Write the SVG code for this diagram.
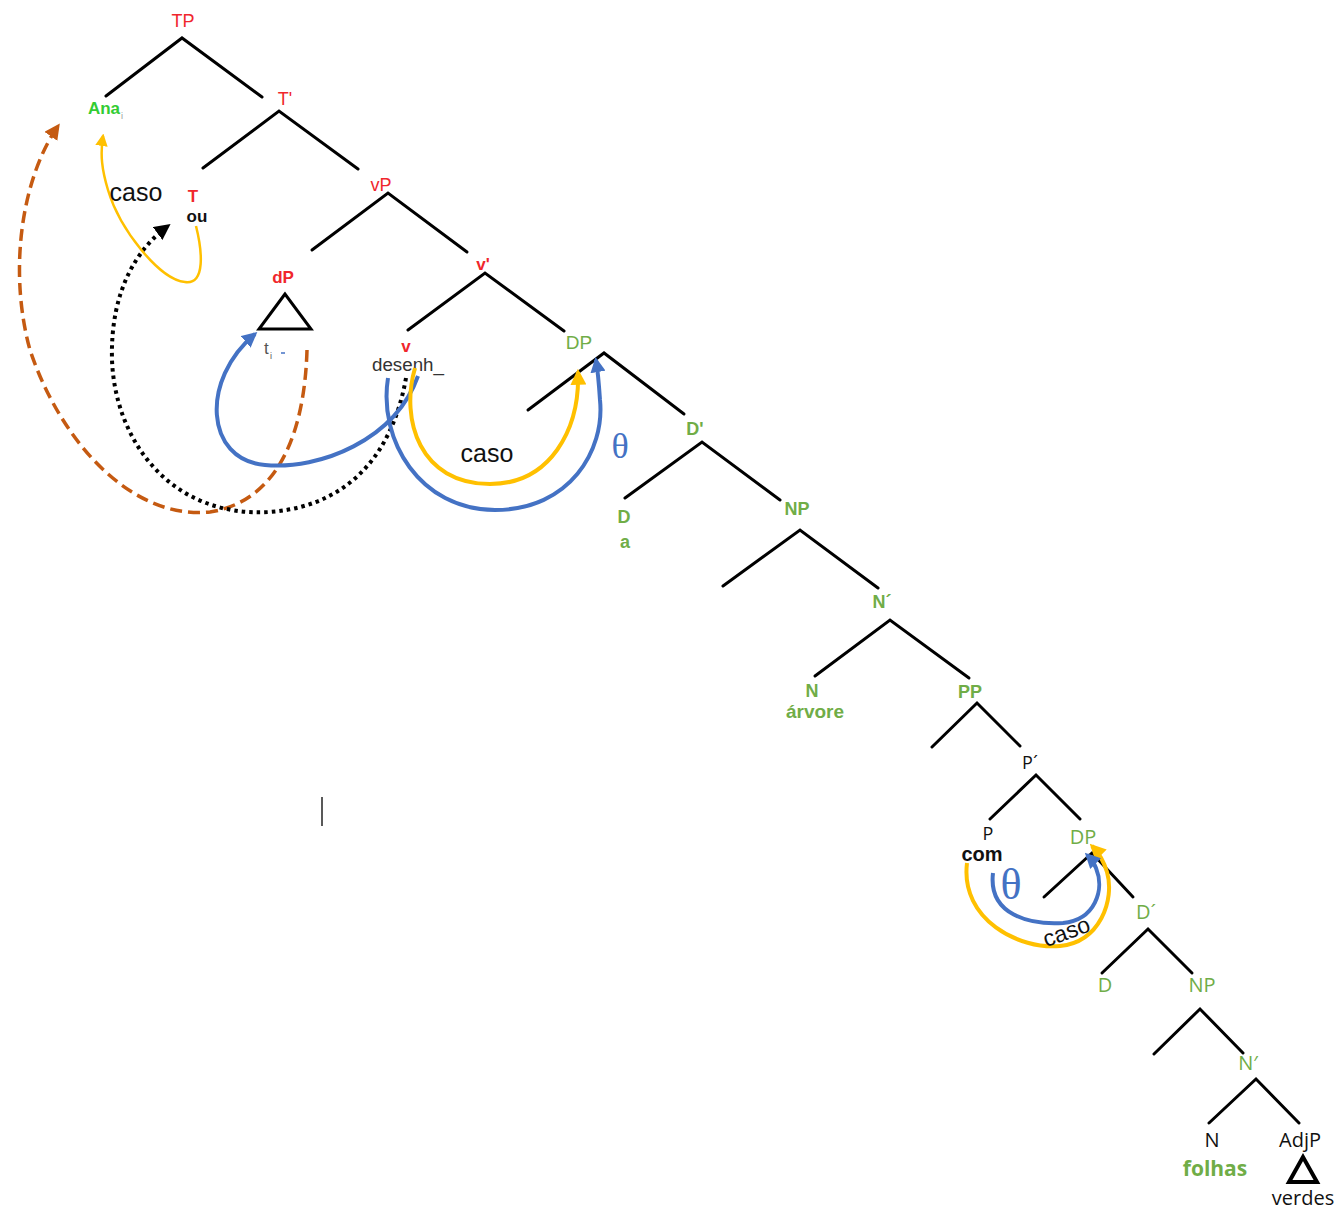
<svg xmlns="http://www.w3.org/2000/svg" width="1341" height="1211" viewBox="0 0 1341 1211">
<defs>
<style>
.br{stroke:#000;stroke-width:3;fill:none;stroke-linecap:round}
.tx{font-family:"Liberation Sans",Arial,sans-serif;text-anchor:middle}
.os{font-family:"Open Sans","Liberation Sans",sans-serif;text-anchor:middle}
.red{fill:#f0262c;font-size:18px}
.redb{fill:#f0262c;font-size:17px;font-weight:bold}
.grn{fill:#70ad47;font-size:19px}
.grnb{fill:#70ad47;font-size:18px;font-weight:bold}
.blk{fill:#111;font-size:19px}
.blkb{fill:#111;font-size:17px;font-weight:bold}
.caso{fill:#111;font-size:25px}
.theta{font-family:"Liberation Serif","Times New Roman",serif;fill:#4472c4;text-anchor:middle}
.yel{stroke:#ffc000;fill:none}
.blu{stroke:#4472c4;fill:none;stroke-width:4}
</style>
<marker id="ay" viewBox="0 0 10 10" refX="8" refY="5" markerWidth="4" markerHeight="4" orient="auto" markerUnits="strokeWidth"><path d="M0,0 L10,5 L0,10 z" fill="#ffc000"/></marker>
<marker id="ay2" viewBox="0 0 10 10" refX="8" refY="5" markerWidth="5" markerHeight="5" orient="auto" markerUnits="strokeWidth"><path d="M0,0 L10,5 L0,10 z" fill="#ffc000"/></marker>
<marker id="ab" viewBox="0 0 10 10" refX="8" refY="5" markerWidth="3.8" markerHeight="3.8" orient="auto" markerUnits="strokeWidth"><path d="M0,0 L10,5 L0,10 z" fill="#4472c4"/></marker>
<marker id="ak" viewBox="0 0 10 10" refX="8" refY="5" markerWidth="4" markerHeight="4" orient="auto" markerUnits="strokeWidth"><path d="M0,0 L10,5 L0,10 z" fill="#000"/></marker>
<marker id="ao" viewBox="0 0 10 10" refX="8" refY="5" markerWidth="4.5" markerHeight="4.5" orient="auto" markerUnits="strokeWidth"><path d="M0,0 L10,5 L0,10 z" fill="#c55a11"/></marker>
</defs>
<rect width="1341" height="1211" fill="#fff"/>

<g id="tree-branches">
<path class="br" d="M106,96 L182,38 L262,97"/>
<path class="br" d="M203,168 L279,111 L358,169"/>
<path class="br" d="M312,250 L388,193 L467,252"/>
<path class="br" d="M408,330 L485,273 L564,331"/>
<path class="br" d="M528,410 L604,353 L684,414"/>
<path class="br" d="M625,498 L702,442 L780,500"/>
<path class="br" d="M723,586 L800,530 L878,588"/>
<path class="br" d="M815,676 L890,620 L969,678"/>
<path class="br" d="M932,747 L977,703 L1020,746"/>
<path class="br" d="M990,819 L1036,775 L1080,819"/>
<path class="br" d="M1044,897 L1092,853 L1133,897"/>
<path class="br" d="M1102,973 L1148,929 L1192,973"/>
<path class="br" d="M1154,1054 L1200,1009 L1243,1053"/>
<path class="br" d="M1209,1123 L1256,1079 L1299,1123"/>
<path d="M322,797 L322,826" stroke="#222" stroke-width="1.5"/>
</g>

<g id="n-TP"><text class="tx red" x="183" y="27">TP</text></g>
<g id="n-Ana"><text class="tx" x="104" y="114" style="fill:#33cc33;font-size:17px;font-weight:bold">Ana</text><text x="121" y="119" style="font-family:'Liberation Sans',sans-serif;font-size:9px;fill:#999">i</text></g>
<g id="n-Tbar"><text class="tx red" x="285" y="105">T'</text></g>
<g id="n-T"><text class="tx redb" x="193" y="202">T</text><text class="tx blkb" x="197" y="222" style="font-size:17px">ou</text></g>
<g id="n-vP"><text class="tx red" x="381" y="191">vP</text></g>
<g id="n-dP"><text class="tx redb" x="283" y="283">dP</text>
<path d="M285,294 L259,329 L311,329 Z" fill="none" stroke="#000" stroke-width="3" stroke-linejoin="miter"/>
<text x="264" y="354" style="font-family:'Liberation Sans',sans-serif;font-size:17px;fill:#555">t</text><text x="270" y="359" style="font-family:'Liberation Sans',sans-serif;font-size:9px;fill:#555">i</text>
<path d="M281,353 L285,353" stroke="#4472c4" stroke-width="1.5"/></g>
<g id="n-vbar"><text class="tx redb" x="483" y="270">v'</text></g>
<g id="n-v"><text class="tx redb" x="406" y="352">v</text><text class="tx" x="408" y="371" textLength="72" lengthAdjust="spacingAndGlyphs" style="fill:#333;font-size:18px">desenh_</text></g>
<g id="n-DP1"><text class="tx grn" x="579" y="349">DP</text></g>
<g id="n-Dbar1"><text class="tx grnb" x="695" y="435">D'</text></g>
<g id="n-D1"><text class="tx grnb" x="624" y="523">D</text><text class="tx grnb" x="625" y="548">a</text></g>
<g id="n-NP1"><text class="tx grnb" x="797" y="515">NP</text></g>
<g id="n-Nbar1"><text class="tx grnb" x="882" y="608">N´</text></g>
<g id="n-N1"><text class="tx grnb" x="812" y="697">N</text><text class="tx grnb" x="815" y="718" style="font-size:19px">árvore</text></g>
<g id="n-PP"><text class="tx grnb" x="970" y="698">PP</text></g>
<g id="n-Pbar"><text class="os blk" x="1030" y="769" style="font-size:18px">P´</text></g>
<g id="n-P"><text class="os blk" x="988" y="840" style="font-size:18px">P</text><text class="tx blkb" x="982" y="861" style="font-size:20px">com</text></g>
<g id="n-DP2"><text class="os grn" x="1083" y="844" style="font-size:20px">DP</text></g>
<g id="n-Dbar2"><text class="os grn" x="1146" y="919" style="font-size:20px">D´</text></g>
<g id="n-D2"><text class="os grn" x="1105" y="992" style="font-size:20px">D</text></g>
<g id="n-NP2"><text class="os grn" x="1202" y="992" style="font-size:20px">NP</text></g>
<g id="n-Nbar2"><text class="os grn" x="1248" y="1070" style="font-size:20px">N′</text></g>
<g id="n-N2"><text class="os blk" x="1212" y="1147" style="font-size:20px">N</text><text class="os" x="1215" y="1176" style="fill:#70ad47;font-size:21px;font-weight:bold">folhas</text></g>
<g id="n-AdjP"><text class="os blk" x="1300" y="1147" style="font-size:20px">AdjP</text>
<path d="M1303,1157 L1289,1182 L1317,1182 Z" fill="none" stroke="#000" stroke-width="4"/>
<text class="os blk" x="1303" y="1205" style="font-size:20px">verdes</text></g>

<g id="connectors">
<path d="M307,350 C305,420 285,500 210,512 C130,520 60,440 30,350 C8,270 22,178 58,126" stroke="#c55a11" stroke-width="3.5" fill="none" stroke-dasharray="12 6" marker-end="url(#ao)"/>
<path d="M406,378 C395,440 360,505 270,512 C170,518 115,440 112,360 C110,290 138,248 168,226" stroke="#000" stroke-width="4" fill="none" stroke-dasharray="3.5 4" marker-end="url(#ak)"/>
<path class="yel" stroke-width="2.5" d="M196,226 C202,250 206,285 185,282 C160,280 120,230 108,190 C102,170 100,155 103,136" marker-end="url(#ay2)"/>
<path class="blu" d="M418,376 C395,440 320,470 265,465 C205,460 200,380 255,334" marker-end="url(#ab)"/>
<path class="blu" d="M388,378 C378,440 420,510 495,510 C570,510 605,450 600,400 C599,385 598,372 596,360" marker-end="url(#ab)"/>
<path class="yel" stroke-width="4" d="M415,368 C400,420 420,484 490,484 C550,484 580,430 578,372" marker-end="url(#ay)"/>
<text class="tx caso" x="487" y="462">caso</text>
<text class="tx caso" x="136" y="201">caso</text>
<text class="theta" x="620" y="458" font-size="36">θ</text>
<path class="yel" stroke-width="4" d="M967,863 C960,920 1020,950 1060,946 C1100,942 1115,900 1107,872 C1104,862 1098,852 1092,846" marker-end="url(#ay)"/>
<path class="blu" d="M993,873 C988,915 1030,925 1063,923 C1095,920 1105,890 1096,868 C1094,863 1091,859 1087,855" marker-end="url(#ab)"/>
<text class="theta" x="1011" y="899" font-size="44">θ</text>
<text class="tx caso" x="0" y="0" transform="translate(1069,939) rotate(-20)" style="font-size:23px">caso</text>
</g>
</svg>
